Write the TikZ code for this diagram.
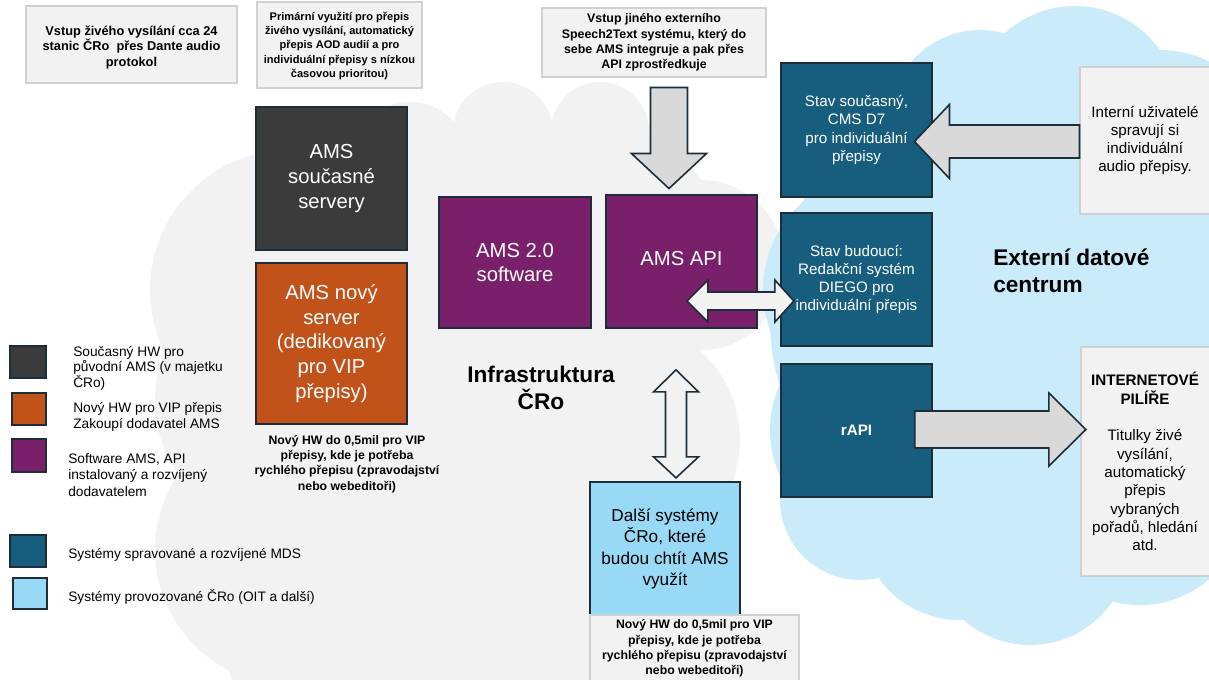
\documentclass[tikz,border=0pt]{standalone}
\usepackage{fontspec}
\setmainfont{Liberation Sans}
\usetikzlibrary{fit,calc}
\definecolor{cloudgray}{HTML}{F2F2F2}
\definecolor{cloudblue}{HTML}{C9EBFA}
\definecolor{boxgray}{HTML}{F2F2F2}
\definecolor{boxgrayline}{HTML}{D0D0D0}
\definecolor{darkgrayB}{HTML}{3B3B3B}
\definecolor{orangeB}{HTML}{C0521A}
\definecolor{purpleB}{HTML}{7A1F6A}
\definecolor{tealB}{HTML}{175E7E}
\definecolor{skyB}{HTML}{98DAF5}
\definecolor{edgeC}{HTML}{1E2D3A}
\definecolor{arrowgray}{HTML}{D9D9D9}
\definecolor{arrowlight}{HTML}{F2F2F2}
\begin{document}
\begin{tikzpicture}[x=0.75pt,y=-0.75pt,
  every node/.style={inner sep=0pt},
  sbox/.style={draw=edgeC, line width=1.3pt, inner sep=0pt},
  lbox/.style={draw=boxgrayline, fill=boxgray, line width=0.8pt, inner sep=0pt},
  legsq/.style={draw=edgeC, line width=1.3pt, inner sep=0pt},
  wtxt/.style={text=white, align=center},
  bigtxt/.style={font=\fontsize{15.2}{18.6}\selectfont},
  midtxt/.style={font=\fontsize{11.4}{13.7}\selectfont},
  notetxt/.style={font=\bfseries\fontsize{9.2}{11.6}\selectfont, align=center},
  legtxt/.style={font=\fontsize{10.3}{11.6}\selectfont, align=left, anchor=west},
  titletxt/.style={font=\bfseries\fontsize{17}{20.3}\selectfont},
  grayarrow/.style={draw=edgeC, fill=arrowgray, line width=1.2pt},
  lightarrow/.style={draw=edgeC, fill=arrowlight, line width=1.2pt},
]
\useasboundingbox (0,0) rectangle (1209,679);
\fill[white] (0,0) rectangle (1209,679);

% gray cloud (Infrastruktura CRo)
\fill[cloudgray]
  (410,160) circle (58)
  (503,132) circle (50)
  (600,131) circle (49)
  (555,180) circle (60)
  (620,175) circle (55)
  (650,215) circle (62)
  (700,265) circle (85)
  (620,440) circle (120)
  (520,560) circle (140)
  (370,620) circle (150)
  (290,550) circle (135)
  (285,400) circle (130)
  (290,290) circle (140)
  (450,205) circle (75)
  (470,330) circle (180);

% blue cloud (Externi datove centrum)
\fill[cloudblue]
  (980,120) circle (90)
  (1075,110) circle (104)
  (1160,160) circle (110)
  (1215,300) circle (130)
  (880,290) circle (117)
  (880,430) circle (110)
  (860,500) circle (80)
  (960,520) circle (100)
  (1030,545) circle (100)
  (1140,500) circle (105)
  (1215,480) circle (100)
  (1000,320) circle (230);

% top note boxes
\node[lbox, fit={(26,6) (237,83)}] (live) {};
\node[font=\bfseries\fontsize{9.6}{11.3}\selectfont, align=center] (livetext) at ($(live.center)+(0,3)$)
  {Vstup živého vysílání cca 24\\stanic ČRo~ přes Dante audio\\protokol};
\node[lbox, fit={(257,2) (422,88)}] (prim) {};
\node[font=\bfseries\fontsize{8.3}{10.6}\selectfont, align=center] (primtext) at ($(prim.center)+(0,1)$)
  {Primární využití pro přepis\\živého vysílání, automatický\\přepis AOD audií a pro\\individuální přepisy s nízkou\\časovou prioritou)};
\node[lbox, fit={(542,8) (766,77)}] (ext) {};
\node[font=\bfseries\fontsize{9.3}{11.5}\selectfont, align=center] (exttext) at (ext.center)
  {Vstup jiného externího\\Speech2Text systému, který do\\sebe AMS integruje a pak přes\\API zprostředkuje};

% infrastructure boxes
\node[sbox, fill=darkgrayB, fit={(256,107) (407,250)}] (cur) {};
\node[wtxt, bigtxt] (curtext) at (cur.center) {AMS\\současné\\servery};
\node[sbox, fill=orangeB, fit={(256,263) (407,424)}] (new) {};
\node[wtxt, bigtxt] (newtext) at (new.center) {AMS nový\\server\\(dedikovaný\\pro VIP\\přepisy)};
\node[notetxt] (newnote) at (347,464) {Nový HW do 0,5mil pro VIP\\přepisy, kde je potřeba\\rychlého přepisu (zpravodajství\\nebo webeditoři)};
\node[sbox, fill=purpleB, fit={(439,197) (591,328)}] (sw) {};
\node[wtxt, bigtxt] (swtext) at (sw.center) {AMS 2.0\\software};
\node[sbox, fill=purpleB, fit={(606,195) (757,328)}] (api) {};
\node[wtxt, bigtxt] (apitext) at ($(api.center)+(0,-3)$) {AMS API};
\node[titletxt, align=center] (infra) at (541,387.5) {Infrastruktura\\ČRo};

\node[sbox, fill=skyB, fit={(590,482) (740,622)}] (dalsi) {};
\node[font=\fontsize{12.9}{16}\selectfont, align=center] (dalsitext) at (665,549) {Další systémy\\ČRo, které\\budou chtít AMS\\využít};
\node[lbox, fit={(590,615) (799,690)}] (dalsibox) {};
\node[notetxt] (dalsinote) at (694.5,648.5) {Nový HW do 0,5mil pro VIP\\přepisy, kde je potřeba\\rychlého přepisu (zpravodajství\\nebo webeditoři)};

% external data centre boxes
\node[sbox, fill=tealB, fit={(781,63) (932,197)}] (cms) {};
\node[wtxt, midtxt] (cmstext) at (cms.center) {Stav současný,\\CMS D7\\pro individuální\\přepisy};
\node[sbox, fill=tealB, fit={(781,213) (932,346)}] (bud) {};
\node[wtxt, midtxt] (budtext) at (bud.center) {Stav budoucí:\\Redakční systém\\DIEGO pro\\individuální přepis};
\node[sbox, fill=tealB, fit={(781,364) (932,497)}] (rapi) {};
\node[wtxt, font=\bfseries\fontsize{11.4}{13.7}\selectfont] (rapitext) at (rapi.center) {rAPI};
\node[titletxt, align=left, anchor=west] (extdc) at (993,270.5) {Externí datové\\centrum};

\node[lbox, fit={(1080,67) (1215,214)}] (intbox) {};
\node[midtxt, align=center] (inttext) at (1145,140.5) {Interní uživatelé\\spravují si\\individuální\\audio přepisy.};
\node[lbox, fit={(1081,347) (1215,576)}] (pilbox) {};
\node[midtxt, align=center] (piltext) at (1145,461.5) {\textbf{INTERNETOVÉ}\\\textbf{PILÍŘE}\\[14pt]Titulky živé\\vysílání,\\automatický\\přepis\\vybraných\\pořadů, hledání\\atd.};

% legend
\node[legsq, fill=darkgrayB, fit={(10,346) (46,378)}] (lg1) {};
\node[legsq, fill=orangeB, fit={(12,393) (46,425)}] (lg2) {};
\node[legsq, fill=purpleB, fit={(12,439) (46,472)}] (lg3) {};
\node[legsq, fill=tealB, fit={(10,535) (46,567)}] (lg4) {};
\node[legsq, fill=skyB, fit={(13,578) (47,609)}] (lg5) {};
\node[legtxt] (lt1) at (73,368) {Současný HW pro\\původní AMS (v majetku\\ČRo)};
\node[legtxt] (lt2) at (73,417) {Nový HW pro VIP přepis\\Zakoupí dodavatel AMS};
\node[legtxt, font=\fontsize{10.3}{12.5}\selectfont] (lt3) at (68,475) {Software AMS, API\\instalovaný a rozvíjený\\dodavatelem};
\node[legtxt] (lt4) at (68,555) {Systémy spravované a rozvíjené MDS};
\node[legtxt] (lt5) at (68,597) {Systémy provozované ČRo (OIT a další)};

% block arrows
% ext -> api (down)
\draw[grayarrow] (ext.south) ++(-3.5,10) -- ++(0,66) -- ++(-19,0) -- ++(37.5,35) -- ++(37.5,-35) -- ++(-19,0) -- ++(0,-66) -- cycle;
% internal users -> cms (left)
\draw[grayarrow] (intbox.west) ++(0,-15.5) -- ++(-130,0) -- ++(0,-20.5) -- ++(-35,37) -- ++(35,37) -- ++(0,-20.5) -- ++(130,0) -- cycle;
% rapi -> internetove pilire (right)
\draw[grayarrow] (rapi.east) ++(-18,-19.5) -- ++(134,0) -- ++(0,-18) -- ++(37,36.5) -- ++(-37,36.5) -- ++(0,-18) -- ++(-134,0) -- cycle;
% api <-> budouci (horizontal double)
\draw[lightarrow] (api.east) ++(-71,39.5) -- ++(21,-21) -- ++(0,12) -- ++(67,0) -- ++(0,-12) -- ++(19,21) -- ++(-19,21) -- ++(0,-12) -- ++(-67,0) -- ++(0,12) -- cycle;
% api <-> dalsi (vertical double)
\draw[lightarrow] (api.south) ++(-5.5,41) -- ++(22.5,22) -- ++(-12,0) -- ++(0,65) -- ++(12,0) -- ++(-22.5,21) -- ++(-22.5,-21) -- ++(12,0) -- ++(0,-65) -- ++(-12,0) -- cycle;
\end{tikzpicture}
\end{document}
